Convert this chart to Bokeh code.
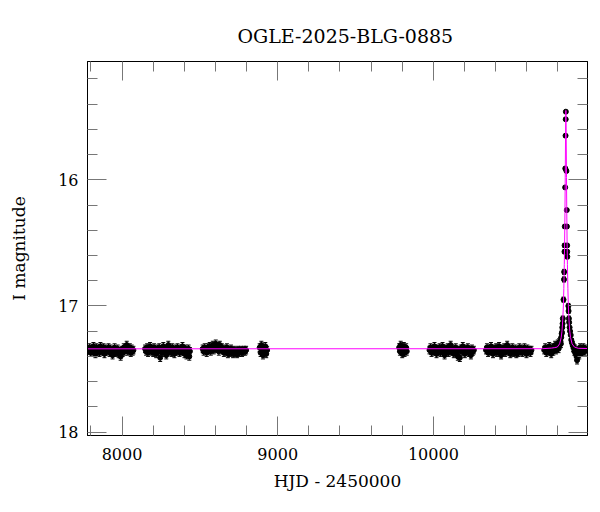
import numpy as np
from bokeh.plotting import figure
from bokeh.models import (Range1d, LinearAxis, FixedTicker, Whisker,
                          ColumnDataSource, TeeHead, CustomJSTickFormatter)
from bokeh.embed import file_html
from bokeh.resources import INLINE

TITLE = "OGLE-2025-BLG-0885"
XLABEL = "HJD - 2450000"
YLABEL = "I magnitude"

# (HJD-2450000, I mag) per observing season
season1 = [(7784, 17.35), (7790, 17.33), (7797, 17.37), (7803, 17.34), (7809, 17.36), (7816, 17.32),
           (7822, 17.35), (7829, 17.38), (7835, 17.33), (7842, 17.36), (7848, 17.34), (7855, 17.37),
           (7861, 17.32), (7868, 17.35), (7874, 17.36), (7881, 17.33), (7887, 17.38), (7894, 17.34),
           (7900, 17.36), (7907, 17.35), (7913, 17.33), (7920, 17.37), (7926, 17.34), (7933, 17.36),
           (7939, 17.39), (7946, 17.35), (7952, 17.33), (7959, 17.37), (7965, 17.36), (7972, 17.34),
           (7978, 17.38), (7985, 17.36), (7991, 17.40), (7998, 17.35), (8004, 17.37), (8011, 17.33),
           (8017, 17.36), (8024, 17.34), (8030, 17.31), (8037, 17.36), (8043, 17.35), (8050, 17.33),
           (8056, 17.37), (8062, 17.34), (8068, 17.36), (8073, 17.35)]
season2 = [(8148, 17.34), (8154, 17.36), (8161, 17.33), (8167, 17.37), (8174, 17.35), (8180, 17.32),
           (8187, 17.36), (8193, 17.34), (8200, 17.37), (8206, 17.33), (8213, 17.35), (8219, 17.38),
           (8226, 17.34), (8232, 17.36), (8239, 17.33), (8245, 17.41), (8252, 17.35), (8258, 17.37),
           (8265, 17.32), (8271, 17.36), (8278, 17.34), (8284, 17.39), (8291, 17.35), (8297, 17.31),
           (8304, 17.36), (8310, 17.34), (8317, 17.37), (8323, 17.33), (8330, 17.35), (8336, 17.38),
           (8343, 17.34), (8349, 17.36), (8356, 17.33), (8362, 17.35), (8369, 17.37), (8375, 17.34),
           (8382, 17.36), (8388, 17.32), (8395, 17.35), (8401, 17.38), (8408, 17.34), (8414, 17.39),
           (8421, 17.36), (8427, 17.34), (8432, 17.40), (8436, 17.36)]
season3 = [(8518, 17.34), (8524, 17.36), (8531, 17.33), (8537, 17.35), (8544, 17.37), (8550, 17.33),
           (8557, 17.35), (8563, 17.32), (8570, 17.36), (8576, 17.34), (8583, 17.31), (8589, 17.35),
           (8596, 17.33), (8602, 17.30), (8609, 17.34), (8615, 17.32), (8622, 17.36), (8628, 17.31),
           (8635, 17.34), (8641, 17.33), (8648, 17.35), (8654, 17.37), (8661, 17.34), (8667, 17.36),
           (8674, 17.33), (8680, 17.38), (8687, 17.35), (8693, 17.37), (8700, 17.34), (8706, 17.36),
           (8713, 17.38), (8719, 17.35), (8726, 17.37), (8732, 17.36), (8739, 17.38), (8745, 17.35),
           (8752, 17.37), (8758, 17.36), (8765, 17.35), (8771, 17.37), (8778, 17.36), (8784, 17.35),
           (8791, 17.36), (8797, 17.35)]
season4 = [(8884, 17.33), (8890, 17.37), (8895, 17.31), (8900, 17.35), (8905, 17.39), (8910, 17.34),
           (8915, 17.36), (8920, 17.32), (8926, 17.38), (8932, 17.35)]
season5 = [(9780, 17.33), (9785, 17.36), (9790, 17.31), (9795, 17.35), (9800, 17.38), (9805, 17.34),
           (9810, 17.32), (9815, 17.37), (9820, 17.35), (9825, 17.33), (9829, 17.36)]
season6 = [(9975, 17.35), (9981, 17.33), (9988, 17.37), (9994, 17.34), (10001, 17.36), (10007, 17.32),
           (10014, 17.35), (10020, 17.38), (10027, 17.34), (10033, 17.36), (10040, 17.33), (10046, 17.37),
           (10053, 17.35), (10059, 17.32), (10066, 17.36), (10072, 17.39), (10079, 17.34), (10085, 17.36),
           (10092, 17.33), (10098, 17.37), (10105, 17.35), (10111, 17.31), (10118, 17.36), (10124, 17.34),
           (10131, 17.38), (10137, 17.35), (10144, 17.33), (10150, 17.37), (10157, 17.40), (10163, 17.35),
           (10170, 17.41), (10176, 17.34), (10183, 17.36), (10189, 17.32), (10196, 17.35), (10202, 17.38),
           (10209, 17.34), (10215, 17.36), (10222, 17.33), (10228, 17.37), (10235, 17.35), (10241, 17.39),
           (10248, 17.34), (10254, 17.36), (10260, 17.35)]
season7 = [(10338, 17.35), (10344, 17.33), (10351, 17.37), (10357, 17.34), (10364, 17.36), (10370, 17.32),
           (10377, 17.35), (10383, 17.38), (10390, 17.34), (10396, 17.36), (10403, 17.33), (10409, 17.37),
           (10416, 17.35), (10422, 17.32), (10429, 17.36), (10435, 17.39), (10442, 17.34), (10448, 17.36),
           (10455, 17.33), (10461, 17.37), (10468, 17.35), (10474, 17.31), (10481, 17.36), (10487, 17.34),
           (10494, 17.38), (10500, 17.35), (10507, 17.33), (10513, 17.37), (10520, 17.36), (10526, 17.34),
           (10533, 17.38), (10539, 17.35), (10546, 17.37), (10552, 17.33), (10559, 17.36), (10565, 17.34),
           (10572, 17.37), (10578, 17.35), (10585, 17.33), (10591, 17.36), (10598, 17.38), (10604, 17.34),
           (10611, 17.36), (10617, 17.35), (10624, 17.37), (10630, 17.35)]
season8 = [(10712, 17.35), (10718, 17.33), (10725, 17.37), (10731, 17.34), (10738, 17.36), (10744, 17.32),
           (10751, 17.35), (10757, 17.38), (10764, 17.33), (10770, 17.36), (10776, 17.34), (10782, 17.31),
           (10788, 17.35), (10794, 17.33), (10799, 17.30), (10804, 17.34), (10808, 17.29), (10811, 17.31),
           (10816, 17.28), (10819, 17.30), (10821, 17.25), (10824, 17.22), (10826, 17.21), (10828, 17.17),
           (10830, 17.14),
           (10872, 17.13), (10875, 17.17), (10878, 17.20), (10882, 17.23), (10886, 17.27), (10890, 17.29),
           (10895, 17.31), (10900, 17.33), (10905, 17.36), (10910, 17.34), (10915, 17.38), (10920, 17.40),
           (10923, 17.43), (10927, 17.37), (10932, 17.35), (10937, 17.39), (10942, 17.33), (10948, 17.36),
           (10953, 17.34), (10958, 17.37), (10963, 17.33), (10968, 17.35), (10973, 17.36), (10978, 17.34)]
BASE_ERR = 0.03

# peak: (HJD-2450000, I mag, error)
peak = [(10831.5, 17.10, 0.02), (10836, 16.95, 0.02), (10839, 16.79, 0.02), (10840, 16.73, 0.02),
        (10842.2, 16.57, 0.015), (10842.8, 16.52, 0.015), (10844.2, 16.37, 0.015), (10846.5, 16.06, 0.012),
        (10847.4, 15.91, 0.012), (10849, 15.65, 0.01), (10850, 15.52, 0.01), (10851, 15.46, 0.01),
        (10854.6, 15.93, 0.012), (10856.8, 16.24, 0.012), (10857.8, 16.37, 0.015), (10859.2, 16.52, 0.015),
        (10859.8, 16.57, 0.015), (10860.3, 16.61, 0.015), (10867, 17.00, 0.02), (10868.5, 17.04, 0.02),
        (10870.5, 17.10, 0.02)]

# model curve
model_t = [7700, 10700, 10760, 10780, 10796, 10811, 10821, 10826, 10831, 10835, 10838, 10841, 10843,
           10845, 10847, 10849, 10850, 10851, 10852, 10853, 10855, 10857, 10859, 10861, 10864, 10867,
           10871, 10876, 10881, 10891, 10906, 10931, 11100]
model_m = [17.340, 17.339, 17.334, 17.330, 17.326, 17.30, 17.25, 17.20, 17.11, 17.00, 16.86, 16.67, 16.50,
           16.27, 15.98, 15.645, 15.51, 15.45, 15.51, 15.645, 15.98, 16.27, 16.50, 16.67, 16.86, 17.00,
           17.11, 17.20, 17.25, 17.30, 17.326, 17.336, 17.34]

X_MAJOR = [8000, 9000, 10000]
Y_MAJOR = [16, 17, 18]

t, m, e = [], [], []
for s in (season1, season2, season3, season4, season5, season6, season7, season8):
    for ti, mi in s:
        t.append(ti); m.append(mi); e.append(BASE_ERR)
for ti, mi, ei in peak:
    t.append(ti); m.append(mi); e.append(ei)
t = np.array(t, float); m = np.array(m, float); e = np.array(e, float)
src = ColumnDataSource(dict(t=t, m=m, lo=m - e, hi=m + e))

FONT = "DejaVu Serif"

p = figure(frame_width=500, frame_height=374, output_backend="svg", toolbar_location=None,
           x_range=Range1d(7778, 10990), y_range=Range1d(18.027, 15.062),
           min_border_left=87, min_border_right=6, min_border_top=61, min_border_bottom=62,
           title=TITLE)
p.grid.visible = False
p.outline_line_color = "black"
p.outline_line_width = 1
p.background_fill_color = "white"
p.border_fill_color = "white"

p.title.text_font = FONT
p.title.text_font_size = "19px"
p.title.text_font_style = "normal"
p.title.text_color = "black"
p.title.align = "left"
p.title.offset = 150
p.title.standoff = 30

xminor = [v for v in range(7800, 11000, 200) if v not in X_MAJOR]
yminor = [round(v, 1) for v in np.arange(15.2, 18.0, 0.2) if round(v, 1) not in Y_MAJOR]
xt = FixedTicker(ticks=X_MAJOR, minor_ticks=xminor)
yt = FixedTicker(ticks=Y_MAJOR, minor_ticks=yminor)

def style(ax):
    ax.major_tick_in = 19
    ax.major_tick_out = 0
    ax.minor_tick_in = 10
    ax.minor_tick_out = 0
    ax.major_tick_line_color = "#777777"
    ax.minor_tick_line_color = "#777777"
    ax.axis_line_color = "black"
    ax.major_label_text_font = FONT
    ax.major_label_text_font_size = "16px"
    ax.major_label_text_color = "black"
    ax.axis_label_text_font = FONT
    ax.axis_label_text_font_size = "17px"
    ax.axis_label_text_font_style = "normal"
    ax.axis_label_text_color = "black"

p.xaxis.ticker = xt
p.yaxis.ticker = yt
style(p.xaxis[0]); style(p.yaxis[0])
p.xaxis.axis_label = XLABEL
p.yaxis.axis_label = YLABEL
p.xaxis.major_label_standoff = 12
p.xaxis.axis_label_standoff = 8
p.yaxis.major_label_standoff = 9
p.yaxis.axis_label_standoff = 26

blank = CustomJSTickFormatter(code="return '';")
top = LinearAxis(ticker=xt, formatter=blank)
style(top)
top.major_label_standoff = 0
p.add_layout(top, "above")
right = LinearAxis(ticker=yt, formatter=blank)
style(right)
right.major_label_standoff = 0
p.add_layout(right, "right")

w = Whisker(source=src, base="t", upper="hi", lower="lo", line_color="black", line_width=1,
            upper_head=TeeHead(size=4, line_color="black", line_width=1),
            lower_head=TeeHead(size=4, line_color="black", line_width=1))
p.add_layout(w)
p.scatter("t", "m", source=src, marker="circle", size=5, color="black")
p.line(model_t, model_m, line_color="#ff00ff", line_width=1)

open("out.html", "w").write(file_html(p, INLINE))
